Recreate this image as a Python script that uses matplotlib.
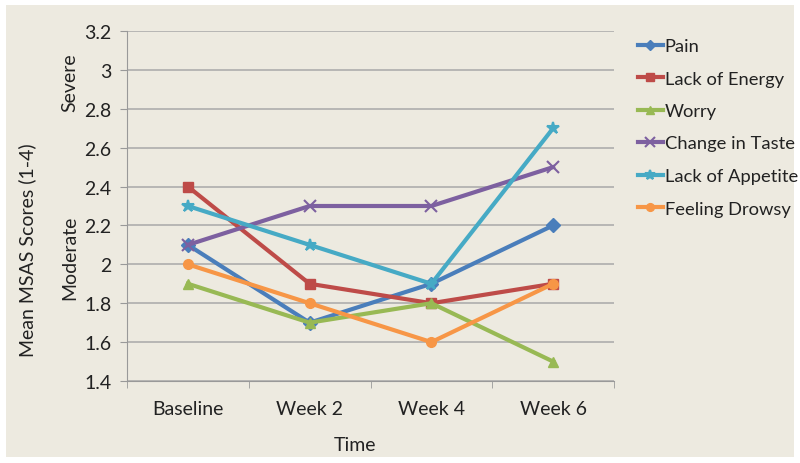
import numpy as np
import matplotlib.pyplot as plt
from matplotlib.patches import Rectangle

plt.rcParams['font.family'] = ['Lato', 'DejaVu Sans']

times = ['Baseline', 'Week 2', 'Week 4', 'Week 6']
pain = [2.1, 1.7, 1.9, 2.2]
lack_of_energy = [2.4, 1.9, 1.8, 1.9]
worry = [1.9, 1.7, 1.8, 1.5]
change_in_taste = [2.1, 2.3, 2.3, 2.5]
lack_of_appetite = [2.3, 2.1, 1.9, 2.7]
feeling_drowsy = [2.0, 1.8, 1.6, 1.9]

series = [
    ('Pain', pain, '#4A7EBB', 'D'),
    ('Lack of Energy', lack_of_energy, '#BE4B48', 's'),
    ('Worry', worry, '#98B954', '^'),
    ('Change in Taste', change_in_taste, '#7D60A0', 'x'),
    ('Lack of Appetite', lack_of_appetite, '#46AAC5', '*'),
    ('Feeling Drowsy', feeling_drowsy, '#F79646', 'o'),
]

bg = '#EDEAE0'
fig = plt.figure(figsize=(8, 4.64), dpi=100, facecolor='white')

# beige panel with thin white border
bgax = fig.add_axes([0, 0, 1, 1], zorder=-10)
bgax.set_axis_off()
bgax.set_xlim(0, 800)
bgax.set_ylim(464, 0)
bgax.add_patch(Rectangle((6, 6), 788, 452, facecolor=bg, edgecolor='none'))

ax = fig.add_axes([127/800, 1 - 382/464, 487/800, 350/464])
ax.set_facecolor(bg)
x = np.arange(len(times))

for name, vals, col, mk in series:
    if mk in ('x', '*'):
        ax.plot(x, vals, color=col, lw=3, marker=mk, ms=9, mew=1.5,
                label=name, zorder=3)
    else:
        ax.plot(x, vals, color=col, lw=3, marker=mk, ms=7,
                mfc=col, mec=col, label=name, zorder=3)

ax.set_xlim(-0.5, 3.5)
ax.set_ylim(1.4, 3.2)
ax.set_yticks(np.arange(1.4, 3.21, 0.2))
ax.set_yticklabels(['1.4', '1.6', '1.8', '2', '2.2', '2.4', '2.6', '2.8', '3', '3.2'])
ax.set_xticks(x)
ax.set_xticklabels(times)
ax.set_xticks(np.arange(-0.5, 3.6, 1), minor=True)
ax.tick_params(axis='x', which='major', length=0, pad=14, labelsize=14, labelcolor='#222222')
ax.tick_params(axis='x', which='minor', length=5, color='#999999', direction='out')
ax.tick_params(axis='y', length=5, color='#999999', labelsize=14, labelcolor='#222222', pad=6)
ax.grid(axis='y', color='#A8A8A8', lw=1.1)
ax.set_axisbelow(True)
for s in ['top', 'right']:
    ax.spines[s].set_visible(False)
for s in ['left', 'bottom']:
    ax.spines[s].set_color('#999999')

fig.text(27/800, 1 - 250/464, 'Mean MSAS Scores (1-4)', rotation=90,
         ha='center', va='center', fontsize=14, color='#222222')
fig.text(70/800, 1 - 83/464, 'Severe', rotation=90,
         ha='center', va='center', fontsize=14, color='#222222')
fig.text(70/800, 1 - 258/464, 'Moderate', rotation=90,
         ha='center', va='center', fontsize=14, color='#222222')
fig.text(355/800, 1 - 446/464, 'Time', ha='center', va='center',
         fontsize=14, color='#222222')

ax.legend(loc='upper left', bbox_to_anchor=(638/800, 1 - 39/464),
          bbox_transform=fig.transFigure, frameon=False, fontsize=13.2,
          handlelength=1.35, handletextpad=0.1, labelspacing=0.9,
          borderpad=0, borderaxespad=0, markerscale=0.8, labelcolor='#222222')

fig.savefig('out.png', dpi=100, facecolor='white')
